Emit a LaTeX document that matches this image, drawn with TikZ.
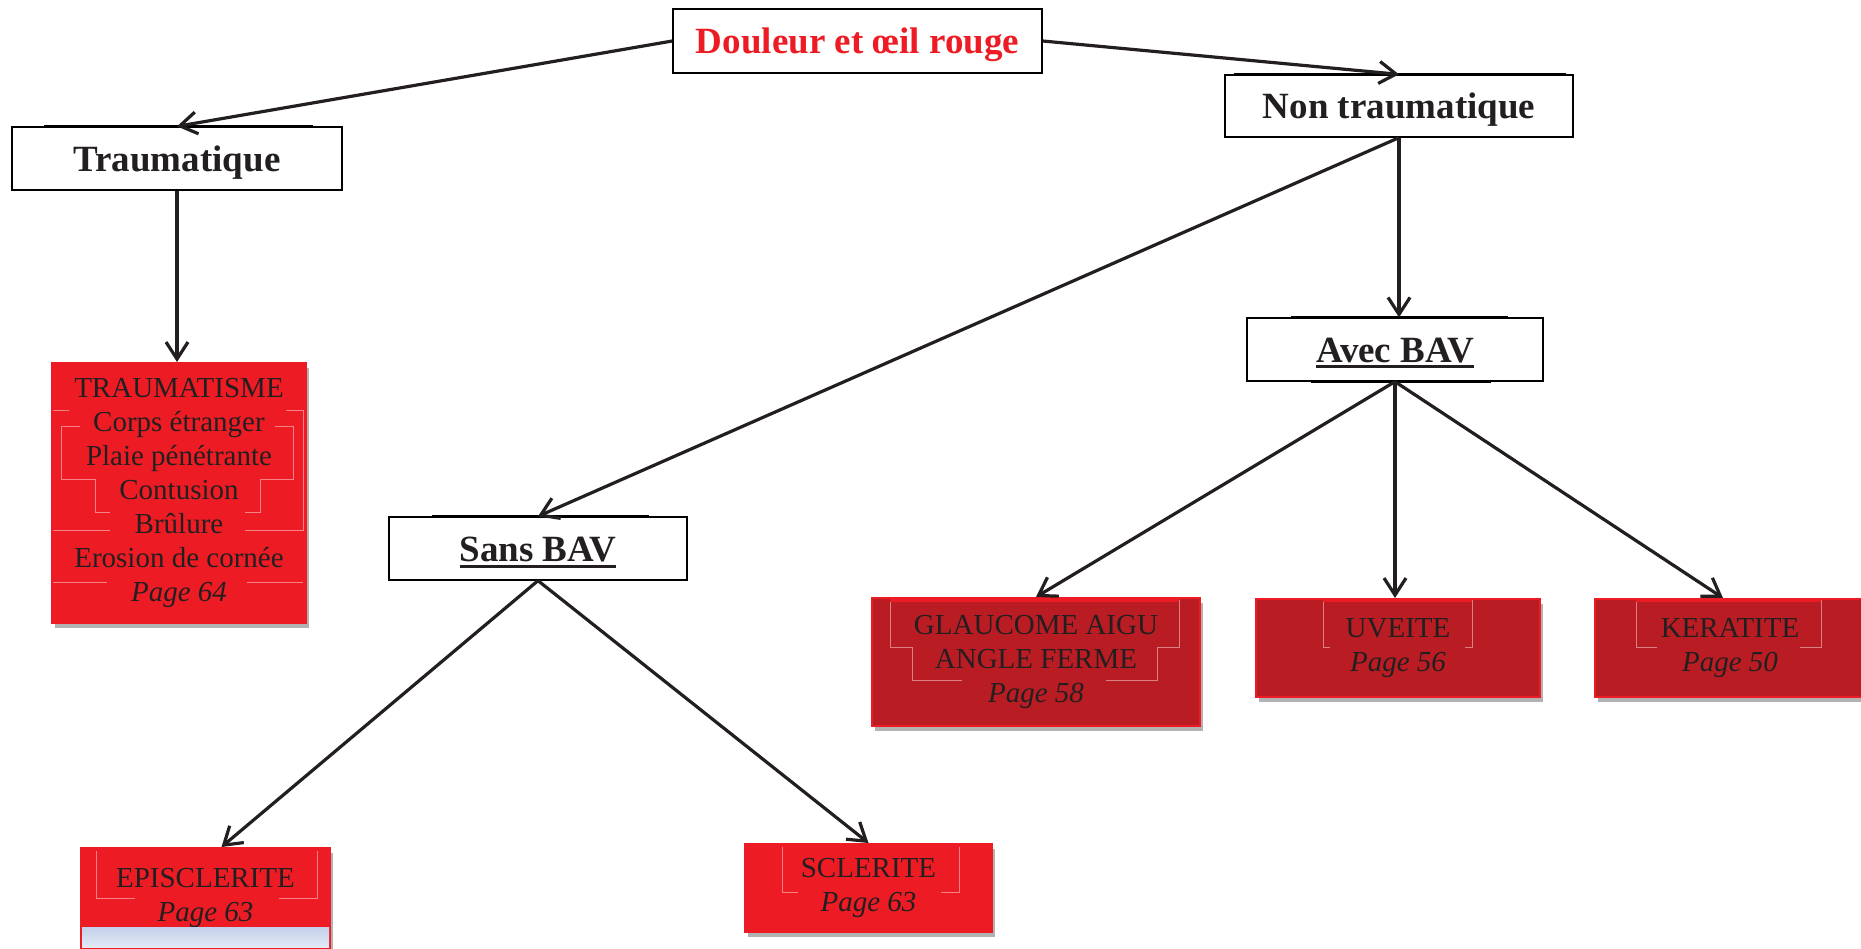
\documentclass[tikz,border=0pt]{standalone}
\usepackage{fontspec}
\setmainfont{Liberation Serif}
\usepackage{tikz}
\usetikzlibrary{arrows.meta,shadows}

\definecolor{vifrouge}{HTML}{ED1C24}
\definecolor{sombrerouge}{HTML}{B91D23}
\definecolor{encre}{HTML}{231F20}

\newcommand{\souligne}[1]{\setbox0\hbox{#1}\makebox[0pt][l]{\rule[-6pt]{\wd0}{3pt}}\box0}

\begin{document}
\begin{tikzpicture}[x=1pt, y=-1pt,
	titre/.style={draw=black, line width=1.3pt, fill=white, text=encre, inner sep=0pt,
		font=\fontsize{37}{44}\selectfont\bfseries, text height=30pt, text depth=4pt},
	barre/.style={line width=3pt},
	rouge/.style={fill=vifrouge, draw=vifrouge, line width=2pt, text=encre, align=center, inner sep=0pt,
		font=\fontsize{29}{34}\selectfont,
		drop shadow={shadow xshift=3pt, shadow yshift=-5pt, opacity=0.3, fill=black}},
	sombre/.style={rouge, fill=sombrerouge},
	filet/.style={draw=white, opacity=0.45, line width=1pt},
	bande/.style={draw=vifrouge, line width=3.5pt},
	fleche/.style={draw=encre, line width=3.2pt, -{Straight Barb[length=17pt,width=22pt]}}]

		\useasboundingbox (0,0) rectangle (1861,949);
		\clip (0,0) rectangle (1861,949);

		% titres
		\node[titre, text=vifrouge, minimum width=369pt, minimum height=64pt] (douleur) at (857.5,41) {Douleur et œil rouge};
		\node[titre, minimum width=330pt, minimum height=63pt] (trauma) at (177,158.5) {Traumatique};
		\node[titre, minimum width=348pt, minimum height=62pt] (nontrauma) at (1399,106) {Non traumatique};
		\node[titre, minimum width=296pt, minimum height=63pt] (avec) at (1395,349.5) {\souligne{Avec BAV}};
		\node[titre, minimum width=298pt, minimum height=63pt] (sans) at (538,548.5) {\souligne{Sans BAV}};

		\draw[barre] ([xshift=33pt]trauma.north west) -- ([xshift=-30pt]trauma.north east);
		\draw[barre] ([xshift=10pt]nontrauma.north west) -- ([xshift=-8pt]nontrauma.north east);
		\draw[barre] ([xshift=45pt]avec.north west) -- ([xshift=-36pt]avec.north east);
		\draw[barre] ([xshift=65pt]avec.south west) -- ([xshift=-53pt]avec.south east);
		\draw[barre] ([xshift=44pt]sans.north west) -- ([xshift=-39pt]sans.north east);

		% diagnostics
		\node[rouge, minimum width=254pt, minimum height=260pt] (traumatisme) at (179,493) {TRAUMATISME\\Corps étranger\\Plaie pénétrante\\Contusion\\Brûlure\\Erosion de cornée\\\textit{Page 64}};
		\node[rouge, minimum width=249pt, minimum height=100pt] (episclerite) at (205.5,898) {EPISCLERITE\\\textit{Page 63}};
		\shade[top color={rgb,255:red,196;green,208;blue,233}, bottom color={rgb,255:red,226;green,234;blue,246}]
			([xshift=2pt,yshift=2pt]episclerite.south west) rectangle ([xshift=-2pt,yshift=22pt]episclerite.south east);
		\node[rouge, minimum width=247pt, minimum height=88pt] (sclerite) at (868.5,888) {SCLERITE\\\textit{Page 63}};
		\node[sombre, minimum width=328pt, minimum height=128pt] (glaucome) at (1036,662) {GLAUCOME AIGU\\ANGLE FERME\\\textit{Page 58}};
		\node[sombre, minimum width=284pt, minimum height=98pt] (uveite) at (1398,648) {UVEITE\\\textit{Page 56}};
		\node[sombre, minimum width=270pt, minimum height=98pt] (keratite) at (1730,648) {KERATITE\\\textit{Page 50}};

		% filets clairs
		\draw[filet] (69,411) -- (53,411) (53,530) -- (110,530);
		\draw[filet] (286,411) -- (303,411) -- (303,530) -- (245,530);
		\draw[filet] (80,427) -- (61,427) -- (61,479) -- (95,479) -- (95,512) -- (110,512);
		\draw[filet] (275,427) -- (293,427) -- (293,479) -- (260,479) -- (260,512) -- (245,512);
		\draw[filet] (53,582) -- (107,582) (247,582) -- (303,582);
		\draw[filet] (96,851) -- (96,898) -- (135,898) (317,851) -- (317,898) -- (279,898);
		\draw[filet] (782,847) -- (782,892) -- (798,892) (959,847) -- (959,892) -- (941,892);
		\draw[filet] (890,600) -- (890,647) -- (912,647) -- (912,680) -- (962,680);
		\draw[filet] (1179,600) -- (1179,647) -- (1157,647) -- (1157,680) -- (1106,680);
		\draw[filet] (1323,600) -- (1323,647) -- (1330,647) (1472,600) -- (1472,647) -- (1465,647);
		\draw[filet] (1636,600) -- (1636,647) -- (1657,647) (1821,600) -- (1821,647) -- (1800,647);
		\draw[bande] (890,600) -- (1179,600);
		\draw[bande] (1323,600) -- (1472,600);
		\draw[bande] (1636,600) -- (1821,600);

		% fleches
		\draw[fleche] (douleur.west) -- (trauma.north);
		\draw[fleche] (douleur.east) -- (nontrauma.north);
		\draw[fleche] (trauma.south) -- (trauma.south |- traumatisme.north);
		\draw[fleche] (nontrauma.south) -- (nontrauma.south |- avec.north);
		\draw[fleche] (nontrauma.south) -- (sans.north);
		\draw[fleche] (avec.south) -- (glaucome.north);
		\draw[fleche] (avec.south) -- (avec.south |- uveite.north);
		\draw[fleche] (avec.south) -- ([xshift=-7pt]keratite.north);
		\draw[fleche] (sans.south) -- ([xshift=16pt]episclerite.north);
		\draw[fleche] (sans.south) -- (sclerite.north);

\end{tikzpicture}
\end{document}
